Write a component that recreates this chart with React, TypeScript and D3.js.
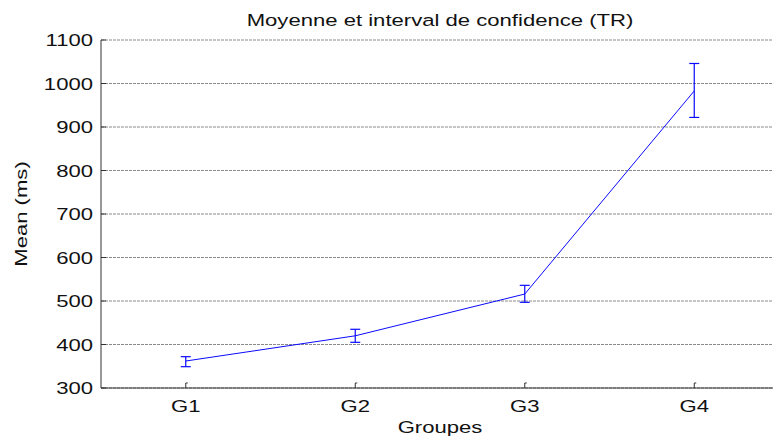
import * as d3 from 'd3';

const groups = ['G1', 'G2', 'G3', 'G4'];
const means = [362, 420, 516, 983];
const lower = [349, 405, 497, 922];
const upper = [372, 435, 536, 1046];
const yTicks = [300, 400, 500, 600, 700, 800, 900, 1000, 1100];

const W = 773;
const H = 437;
const FONT = 'Arial, "Liberation Sans", Helvetica, sans-serif';
const SX = 1.3; // the reference glyphs are wider than Liberation Sans

function Txt({
  x,
  y,
  anchor = 'middle',
  rotate = 0,
  dy,
  children,
}: {
  x: number;
  y: number;
  anchor?: 'start' | 'middle' | 'end';
  rotate?: number;
  dy?: string;
  children: React.ReactNode;
}) {
  return (
    <text
      transform={`translate(${x},${y}) rotate(${rotate}) scale(${SX},1)`}
      textAnchor={anchor}
      dy={dy}
      fontSize={17}
      fill="#111"
    >
      {children}
    </text>
  );
}

export default function App() {
  const margin = { top: 40, left: 101, bottom: 49 };
  const plotBottom = H - margin.bottom;

  const x = d3.scaleLinear().domain([0.5, 4.5]).range([margin.left, 779]);
  const y = d3.scaleLinear().domain([300, 1100]).range([plotBottom, margin.top]);

  const pts = means.map((m, i) => ({ i: i + 1, m }));
  const line = d3
    .line<{ i: number; m: number }>()
    .x((d) => x(d.i))
    .y((d) => y(d.m));

  const blue = '#0a0aff';
  const cap = 5;

  return (
    <svg
      width={W}
      height={H}
      style={{ position: 'absolute', left: 0, top: 0, background: '#fff' }}
      fontFamily={FONT}
    >
      <rect width={W} height={H} fill="#fff" />

      {/* grid */}
      {yTicks.map((t) => (
        <line
          key={'g' + t}
          x1={margin.left}
          x2={W}
          y1={y(t)}
          y2={y(t)}
          stroke="#8a8a8a"
          strokeWidth={1}
          strokeDasharray="3,1"
        />
      ))}

      {/* axes */}
      <line x1={margin.left} x2={margin.left} y1={y(1100)} y2={plotBottom} stroke="#333" strokeWidth={1} />
      <line x1={margin.left} x2={W} y1={plotBottom} y2={plotBottom} stroke="#333" strokeWidth={1} />

      {/* y ticks */}
      {yTicks.map((t) => (
        <g key={'yt' + t}>
          <line x1={margin.left} x2={margin.left + 5} y1={y(t)} y2={y(t)} stroke="#333" />
          <Txt x={margin.left - 8} y={y(t)} anchor="end" dy="0.36em">
            {t}
          </Txt>
        </g>
      ))}

      {/* x ticks */}
      {groups.map((g, i) => (
        <g key={g}>
          <line x1={x(i + 1)} x2={x(i + 1)} y1={plotBottom} y2={plotBottom - 5} stroke="#333" />
          <line x1={x(i + 1)} x2={x(i + 1) + 2} y1={plotBottom - 5} y2={plotBottom - 5} stroke="#333" />
          <Txt x={x(i + 1)} y={plotBottom + 24}>
            {g}
          </Txt>
        </g>
      ))}

      {/* series */}
      <path d={line(pts) ?? ''} fill="none" stroke={blue} strokeWidth={1} />
      {pts.map((p, i) => (
        <g key={'e' + i} stroke={blue} strokeWidth={1.2}>
          <line x1={x(p.i)} x2={x(p.i)} y1={y(lower[i])} y2={y(upper[i])} />
          <line x1={x(p.i) - cap} x2={x(p.i) + cap} y1={y(lower[i])} y2={y(lower[i])} />
          <line x1={x(p.i) - cap} x2={x(p.i) + cap} y1={y(upper[i])} y2={y(upper[i])} />
        </g>
      ))}

      {/* labels */}
      <Txt x={440} y={26}>
        Moyenne et interval de confidence (TR)
      </Txt>
      <Txt x={440} y={433}>
        Groupes
      </Txt>
      <Txt x={27} y={(margin.top + plotBottom) / 2} rotate={-90}>
        Mean (ms)
      </Txt>
    </svg>
  );
}
